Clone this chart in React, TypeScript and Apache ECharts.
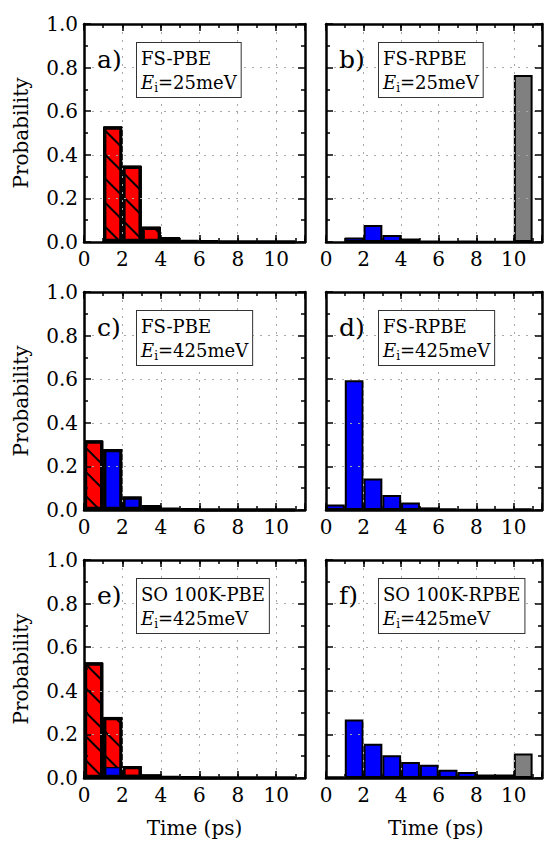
import React, { useEffect, useRef } from "react";
import * as echarts from "echarts";

// Histogram bins of 1 ps, plotted at their centres
const binCenters = [0.5, 1.5, 2.5, 3.5, 4.5, 5.5, 6.5, 7.5, 8.5, 9.5, 10.5];

// a) FS-PBE, Ei = 25 meV
const aRed = [null, 0.53, 0.35, 0.07, 0.022, 0.007, 0.003, 0.002, 0.002, 0.002, 0.002];
const aBlue = [null, null, null, null, null, null, null, null, null, null, null];
const aGray = [null, null, null, null, null, null, null, null, null, null, null];

// b) FS-RPBE, Ei = 25 meV
const bRed = [null, null, null, null, null, null, null, null, null, null, null];
const bBlue = [null, 0.021, 0.078, 0.032, 0.016, 0.005, 0.003, 0.004, 0.002, 0.002, null];
const bGray = [null, null, null, null, null, null, null, null, null, null, 0.766];

// c) FS-PBE, Ei = 425 meV
const cRed = [0.315, null, null, null, null, null, null, null, null, null, null];
const cBlue = [0.004, 0.28, 0.062, 0.023, 0.009, 0.004, 0.002, 0.002, 0.002, 0.002, 0.002];
const cGray = [null, null, null, null, null, null, null, null, null, null, null];

// d) FS-RPBE, Ei = 425 meV
const dRed = [null, null, null, null, null, null, null, null, null, null, null];
const dBlue = [0.025, 0.595, 0.145, 0.069, 0.034, 0.012, 0.006, 0.003, 0.002, 0.002, null];
const dGray = [null, null, null, null, null, null, null, null, null, null, 0.008];

// e) SO 100K-PBE, Ei = 425 meV
const eRed = [0.53, 0.23, 0.04, 0.012, 0.006, 0.003, 0.002, 0.002, 0.002, 0.002, 0.002];
const eBlue = [null, 0.05, 0.015, 0.004, null, null, null, null, null, null, null];
const eGray = [null, null, null, null, null, null, null, null, null, null, null];

// f) SO 100K-RPBE, Ei = 425 meV
const fRed = [null, null, null, null, null, null, null, null, null, null, null];
const fBlue = [0.008, 0.268, 0.157, 0.104, 0.073, 0.061, 0.038, 0.028, 0.016, 0.016, null];
const fGray = [null, null, null, null, null, null, null, null, null, null, 0.112];

const panelLetters = ["a)", "b)", "c)", "d)", "e)", "f)"];
const panelModels = ["FS-PBE", "FS-RPBE", "FS-PBE", "FS-RPBE", "SO 100K-PBE", "SO 100K-RPBE"];
const panelEnergies = ["25meV", "25meV", "425meV", "425meV", "425meV", "425meV"];
const panelRed = [aRed, bRed, cRed, dRed, eRed, fRed];
const panelBlue = [aBlue, bBlue, cBlue, dBlue, eBlue, fBlue];
const panelGray = [aGray, bGray, cGray, dGray, eGray, fGray];
const panelOutlined = [true, false, true, false, true, false];

const xAxisTitle = "Time (ps)";
const yAxisTitle = "Probability";

const X_MAX = 11.5;
const FONT = "DejaVu Serif";
const COL_LEFT = [84, 326];
const COL_WIDTH = [221, 219.5];
const ROW_TOP = [24, 292, 560];
const PLOT_H = 218;

const tickLine = { color: "#000", width: 1.5 };
const frameLine = { color: "#000", width: 2.5 };
const dotted = { color: "#a8a8a8", width: 1, type: [2, 6] as number[] };

const hatch = {
  symbol: "rect",
  symbolSize: 1,
  color: "#000",
  dashArrayX: [1, 0],
  dashArrayY: [1.2, 15],
  rotation: Math.PI / 4,
};

function majorX(i: number, pos: "bottom" | "top") {
  return {
    type: "value",
    gridIndex: i,
    position: pos,
    min: 0,
    max: X_MAX,
    interval: 2,
    z: 5,
    axisLine: { show: true, onZero: false, lineStyle: frameLine },
    axisTick: { show: true, inside: true, length: 7, lineStyle: tickLine },
    minorTick: { show: false },
    splitLine: { show: pos === "bottom", lineStyle: dotted },
    axisLabel: {
      show: pos === "bottom",
      margin: 7,
      fontFamily: FONT,
      fontSize: 20,
      color: "#000",
      formatter: (v: number) => (v % 2 === 0 ? String(v) : ""),
    },
  };
}

function minorX(i: number, pos: "bottom" | "top") {
  return {
    type: "value",
    gridIndex: i,
    position: pos,
    min: 0,
    max: X_MAX,
    interval: 1,
    z: 5,
    axisLine: { show: false, onZero: false },
    axisTick: { show: true, inside: true, length: 4, lineStyle: tickLine },
    splitLine: { show: false },
    axisLabel: { show: false },
  };
}

function yAx(i: number, pos: "left" | "right", labels: boolean) {
  return {
    type: "value",
    gridIndex: i,
    position: pos,
    min: 0,
    max: 1,
    interval: 0.2,
    z: 5,
    axisLine: { show: true, onZero: false, lineStyle: frameLine },
    axisTick: { show: true, inside: true, length: 7, lineStyle: tickLine },
    minorTick: { show: true, splitNumber: 2, length: 4, lineStyle: tickLine },
    splitLine: { show: pos === "left", lineStyle: dotted },
    axisLabel: {
      show: labels,
      margin: 6,
      fontFamily: FONT,
      fontSize: 20,
      color: "#000",
      formatter: (v: number) => v.toFixed(1),
    },
  };
}

function pairs(values: (number | null)[]) {
  const out: number[][] = [];
  values.forEach((v, k) => {
    if (v !== null) out.push([binCenters[k], v]);
  });
  return out;
}

function buildOption() {
  const grid: any[] = [];
  const xAxis: any[] = [];
  const yAxis: any[] = [];
  const series: any[] = [];
  const graphic: any[] = [];

  for (let i = 0; i < 6; i++) {
    const col = i % 2;
    const row = Math.floor(i / 2);
    const left = COL_LEFT[col];
    const top = ROW_TOP[row];
    const width = COL_WIDTH[col];
    grid.push({ left, top, width, height: PLOT_H });
    xAxis.push(majorX(i, "bottom"), minorX(i, "bottom"), majorX(i, "top"), minorX(i, "top"));
    yAxis.push(yAx(i, "left", col === 0), yAx(i, "right", false));

    const red = panelRed[i];
    const blue = panelBlue[i];
    const gray = panelGray[i];
    // red part sits on top of the blue part of the same bin
    const total = red.map((r, k) =>
      r === null && blue[k] === null ? null : (r ?? 0) + (blue[k] ?? 0)
    );
    const redTop = red.map((r, k) => (r === null ? null : total[k]));
    const base = {
      type: "bar",
      xAxisIndex: 4 * i,
      yAxisIndex: 2 * i,
      barWidth: "100%",
      barGap: "-100%",
      silent: true,
    };
    series.push({
      ...base,
      name: "red" + i,
      data: pairs(redTop),
      itemStyle: { color: "#ff0000", borderColor: "#000", borderWidth: 1, decal: hatch },
    });
    series.push({
      ...base,
      name: "blue" + i,
      data: pairs(blue),
      itemStyle: {
        color: "#0000ff",
        borderColor: "#000",
        borderWidth: panelOutlined[i] ? 1.2 : 2,
      },
    });
    series.push({
      ...base,
      name: "gray" + i,
      data: pairs(gray),
      itemStyle: { color: "#808080", borderColor: "#000", borderWidth: 2 },
    });
    if (panelOutlined[i]) {
      series.push({
        ...base,
        name: "outline" + i,
        data: pairs(total),
        itemStyle: { color: "rgba(0,0,0,0)", borderColor: "#000", borderWidth: 3.2 },
      });
    }

    graphic.push({
      type: "text",
      z: 20,
      x: left + 13,
      y: top + 35,
      style: {
        text: panelLetters[i],
        fontFamily: FONT,
        fontSize: 25,
        fill: "#000",
        verticalAlign: "middle",
        align: "left",
      },
    });
    graphic.push({
      type: "text",
      z: 20,
      x: left + 53,
      y: top + 19,
      style: {
        text: panelModels[i] + "\n{e|E}{s|i}=" + panelEnergies[i],
        fontFamily: FONT,
        fontSize: 18,
        lineHeight: 24,
        fill: "#000",
        backgroundColor: "#fff",
        borderColor: "#333",
        borderWidth: 1,
        padding: [3, 4, 3, 4],
        rich: {
          e: { fontFamily: FONT, fontSize: 18, fontStyle: "italic", lineHeight: 24 },
          s: { fontFamily: FONT, fontSize: 12, lineHeight: 10, verticalAlign: "bottom" },
        },
      },
    });
  }

  for (let row = 0; row < 3; row++) {
    graphic.push({
      type: "text",
      z: 20,
      x: 21,
      y: ROW_TOP[row] + PLOT_H / 2,
      rotation: Math.PI / 2,
      style: {
        text: yAxisTitle,
        fontFamily: FONT,
        fontSize: 20,
        fill: "#000",
        align: "center",
        verticalAlign: "middle",
      },
    });
  }
  for (let col = 0; col < 2; col++) {
    graphic.push({
      type: "text",
      z: 20,
      x: COL_LEFT[col] + COL_WIDTH[col] / 2,
      y: 828,
      style: {
        text: xAxisTitle,
        fontFamily: FONT,
        fontSize: 20,
        fill: "#000",
        align: "center",
        verticalAlign: "middle",
      },
    });
  }

  return {
    animation: false,
    backgroundColor: "#fff",
    textStyle: { fontFamily: FONT },
    grid,
    xAxis,
    yAxis,
    series,
    graphic,
  };
}

export default function App() {
  const ref = useRef<HTMLDivElement>(null);
  useEffect(() => {
    const chart = echarts.init(ref.current!, null, { renderer: "svg" });
    chart.setOption(buildOption() as any);
    return () => chart.dispose();
  }, []);
  return (
    <div
      ref={ref}
      style={{ position: "absolute", left: 0, top: 0, width: 545, height: 841 }}
    />
  );
}
